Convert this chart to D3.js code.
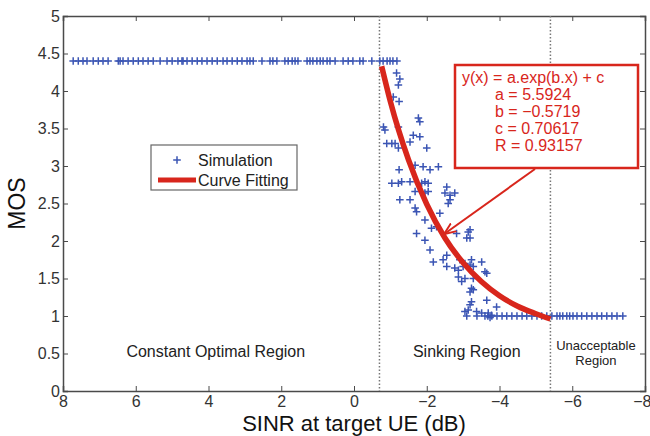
<!DOCTYPE html>
<html>
<head>
<meta charset="utf-8">
<script src="https://cdn.jsdelivr.net/npm/d3@7"></script>
<style>
  body { margin: 0; background: #fff; }
  svg { font-family: "Liberation Sans", Arial, sans-serif; }
</style>
</head>
<body>
<div id="chart"></div>
<script>
// simulation points on the upper plateau (MOS = 4.4)
var topSinr = [7.72, 7.58, 7.45, 7.34, 7.17, 7.03, 6.90, 6.76, 6.48, 6.43, 6.35, 6.21, 6.07, 5.93,
    5.80, 5.66, 5.52, 5.33, 5.14, 5.00, 4.84, 4.73, 4.70, 4.59, 4.45, 4.31, 4.18, 4.04, 3.90,
    3.76, 3.60, 3.49, 3.35, 3.21, 3.08, 2.94, 2.86, 2.77, 2.53, 2.31, 2.23, 2.12, 1.90, 1.81,
    1.70, 1.62, 1.54, 1.29, 1.21, 1.13, 1.02, 0.93, 0.85, 0.74, 0.66, 0.52, 0.30, 0.16, 0.03,
    -0.16, -0.25, -0.49, -0.71, -0.80, -0.91, -0.99, -1.07, -1.18];
var topMos = 4.4;

// simulation points on the lower plateau (MOS = 1)
var bottomSinr = [-3.10, -3.38, -3.60, -3.68, -3.79, -3.93, -4.07, -4.20, -4.34, -4.48, -4.62,
    -4.75, -4.89, -5.03, -5.16, -5.30, -5.44, -5.58, -5.66, -5.74, -5.85, -5.93, -6.02, -6.13,
    -6.26, -6.40, -6.54, -6.68, -6.81, -6.95, -7.09, -7.23, -7.39];
var bottomMos = 1.0;

// scattered simulation points in the sinking region
var scatterSinr = [-1.17, -1.26, -1.22, -1.08, -1.24, -1.77, -1.81, -0.81, -0.85, -1.22, -1.63,
    -1.81, -1.54, -0.90, -1.04, -1.13, -2.00, -1.22, -1.24, -1.68, -1.90, -2.09, -2.32, -1.04,
    -1.22, -1.31, -1.54, -1.86, -1.95, -2.04, -2.55, -1.68, -1.95, -2.04, -2.50, -2.64, -2.77,
    -2.64, -2.59, -1.26, -1.54, -1.68, -1.72, -2.36, -1.95, -2.13, -2.27, -1.72, -2.82, -3.19,
    -1.95, -3.14, -3.10, -3.19, -2.09, -2.55, -2.45, -2.18, -2.91, -3.05, -3.23, -3.51, -2.55,
    -2.77, -2.87, -3.00, -3.19, -3.28, -3.60, -3.65, -2.87, -3.05, -2.96, -3.28, -3.23, -3.28,
    -3.19, -3.23, -3.19, -3.65, -3.92, -3.14, -3.37, -3.51, -3.69, -3.78, -3.74, -3.05];
var scatterMos = [4.24, 4.16, 4.08, 3.92, 3.86, 3.64, 3.59, 3.52, 3.48, 3.52, 3.41, 3.39, 3.32,
    3.30, 3.30, 3.30, 3.24, 3.24, 2.95, 3.01, 2.99, 2.95, 2.99, 2.77, 2.77, 2.79, 2.79, 2.77,
    2.79, 2.77, 2.72, 2.66, 2.64, 2.66, 2.64, 2.61, 2.64, 2.55, 2.50, 2.55, 2.55, 2.44, 2.39,
    2.37, 2.28, 2.17, 2.19, 2.10, 2.10, 2.15, 2.01, 2.12, 2.04, 2.04, 1.88, 1.81, 1.75, 1.72,
    1.75, 1.70, 1.75, 1.72, 1.66, 1.64, 1.61, 1.66, 1.68, 1.66, 1.59, 1.57, 1.52, 1.50, 1.46,
    1.50, 1.37, 1.35, 1.32, 1.19, 1.15, 1.21, 1.12, 1.08, 1.06, 1.04, 1.04, 1.01, 0.98, 1.06];

// fitted curve
var fitSinr = [-0.76, -1.0, -1.5, -2.0, -2.5, -3.0, -3.5, -4.0, -4.5, -5.0, -5.4];
var fitMos = [4.33, 3.86, 3.08, 2.49, 2.04, 1.71, 1.46, 1.27, 1.13, 1.03, 0.96];

// region boundaries (dotted lines)
var boundaries = [-0.7, -5.4];

var xTicks = [8, 6, 4, 2, 0, -2, -4, -6, -8];
var yTicks = [0, 0.5, 1, 1.5, 2, 2.5, 3, 3.5, 4, 4.5, 5];

var fitText = ["y(x) = a.exp(b.x) + c", "a = 5.5924", "b = \u22120.5719", "c = 0.70617", "R = 0.93157"];
var regionNames = ["Constant Optimal Region", "Sinking Region", "Unacceptable", "Region"];
var regionSinr = [3.8, -3.1, -6.65, -6.65];
var regionLine = [0, 0, -1, 1];

var width = 650, height = 436;
var margin = {left: 63, right: 5, top: 16, bottom: 45};
var blue = "#3b55b4", red = "#d8261c", axisColor = "#4a4a4a";

var svg = d3.select("#chart").append("svg")
    .attr("width", width)
    .attr("height", height);

var x = d3.scaleLinear()
    .domain([8, -8])
    .range([margin.left, width - margin.right]);

var y = d3.scaleLinear()
    .domain([0, 5])
    .range([height - margin.bottom, margin.top]);

function fmt(d) {
    return d < 0 ? "\u2212" + Math.abs(d) : String(d);
}

// axes, matlab style: ticks inside, box all round
var xAxis = svg.append("g")
    .attr("transform", "translate(0," + y(0) + ")")
    .call(d3.axisBottom(x).tickValues(xTicks).tickSize(-5).tickPadding(5).tickFormat(fmt));
var xTop = svg.append("g")
    .attr("transform", "translate(0," + y(5) + ")")
    .call(d3.axisTop(x).tickValues(xTicks).tickSize(-5).tickFormat(""));
var yAxis = svg.append("g")
    .attr("transform", "translate(" + x(8) + ",0)")
    .call(d3.axisLeft(y).tickValues(yTicks).tickSize(-5).tickPadding(3).tickFormat(function(d) { return d; }));
var yRight = svg.append("g")
    .attr("transform", "translate(" + x(-8) + ",0)")
    .call(d3.axisRight(y).tickValues(yTicks).tickSize(-5).tickFormat(""));

[xAxis, xTop, yAxis, yRight].forEach(function(g) {
    g.selectAll("path.domain").attr("stroke", axisColor).attr("stroke-width", 1.5);
    g.selectAll(".tick line").attr("stroke", axisColor).attr("stroke-width", 1);
    g.selectAll(".tick text").attr("fill", "#333").style("font-size", "16px");
});
// keep the last x label inside the page
xAxis.selectAll(".tick text").filter(function(d) { return d === -8; }).attr("dx", "-0.2em");

// region boundaries
svg.selectAll("line.bound")
    .data(boundaries)
    .enter().append("line")
    .attr("class", "bound")
    .attr("x1", function(d) { return x(d); })
    .attr("x2", function(d) { return x(d); })
    .attr("y1", y(5))
    .attr("y2", y(0))
    .attr("stroke", "#777")
    .attr("stroke-width", 1.5)
    .attr("stroke-dasharray", "1.5,2");

// simulation points
var points = [];
topSinr.forEach(function(s) { points.push({s: s, m: topMos}); });
bottomSinr.forEach(function(s) { points.push({s: s, m: bottomMos}); });
scatterSinr.forEach(function(s, i) { points.push({s: s, m: scatterMos[i]}); });

var plus = "M-3.8,0H3.8M0,-3.8V3.8";
svg.selectAll("path.sim")
    .data(points)
    .enter().append("path")
    .attr("class", "sim")
    .attr("d", plus)
    .attr("transform", function(d) { return "translate(" + x(d.s) + "," + y(d.m) + ")"; })
    .attr("stroke", blue)
    .attr("stroke-width", 1.5)
    .attr("fill", "none");

// fitted curve
var fitData = fitSinr.map(function(s, i) { return {s: s, m: fitMos[i]}; });
var line = d3.line()
    .x(function(d) { return x(d.s); })
    .y(function(d) { return y(d.m); })
    .curve(d3.curveMonotoneX);

svg.append("path")
    .attr("d", line(fitData))
    .attr("stroke", red)
    .attr("stroke-width", 5.5)
    .attr("fill", "none");

// region labels
svg.selectAll("text.region")
    .data(regionNames)
    .enter().append("text")
    .attr("class", "region")
    .attr("x", function(d, i) { return x(regionSinr[i]); })
    .attr("y", function(d, i) { return 357 + regionLine[i] * 7.5; })
    .attr("text-anchor", "middle")
    .attr("fill", "#222")
    .style("font-size", function(d, i) { return regionLine[i] === 0 ? "16px" : "13px"; })
    .text(function(d) { return d; });

// legend
var legend = svg.append("g").attr("transform", "translate(151,145)");
legend.append("rect")
    .attr("width", 146)
    .attr("height", 45)
    .attr("fill", "#fff")
    .attr("stroke", "#666")
    .attr("stroke-width", 1.2);
legend.append("path")
    .attr("d", plus)
    .attr("transform", "translate(26,15)")
    .attr("stroke", blue)
    .attr("stroke-width", 1.5);
legend.append("line")
    .attr("x1", 7).attr("x2", 45)
    .attr("y1", 35).attr("y2", 35)
    .attr("stroke", red)
    .attr("stroke-width", 5);
legend.append("text").attr("x", 47).attr("y", 21).text("Simulation")
    .style("font-size", "16px").attr("fill", "#222");
legend.append("text").attr("x", 47).attr("y", 41).text("Curve Fitting")
    .style("font-size", "16px").attr("fill", "#222");

// fit annotation
var box = svg.append("g").attr("transform", "translate(455,65)");
box.append("rect")
    .attr("width", 183)
    .attr("height", 103)
    .attr("fill", "#fff")
    .attr("stroke", red)
    .attr("stroke-width", 2.5);
box.selectAll("text")
    .data(fitText)
    .enter().append("text")
    .attr("x", function(d, i) { return i === 0 ? 7 : 40; })
    .attr("y", function(d, i) { return 18 + i * 17; })
    .attr("fill", red)
    .style("font-size", "16px")
    .text(function(d) { return d; });

// arrow from the box to the curve
svg.append("defs").append("marker")
    .attr("id", "arrow")
    .attr("viewBox", "0 0 10 10")
    .attr("refX", 9).attr("refY", 5)
    .attr("markerWidth", 6).attr("markerHeight", 6)
    .attr("orient", "auto")
    .append("path")
    .attr("d", "M0,1L10,5L0,9")
    .attr("fill", "none")
    .attr("stroke", red)
    .attr("stroke-width", 1.6);

svg.append("line")
    .attr("x1", 535).attr("y1", 169)
    .attr("x2", x(-2.5)).attr("y2", y(2.1))
    .attr("stroke", red)
    .attr("stroke-width", 2)
    .attr("marker-end", "url(#arrow)");

// axis titles
svg.append("text")
    .attr("x", x(0))
    .attr("y", 431)
    .attr("text-anchor", "middle")
    .attr("fill", "#111")
    .style("font-size", "22px")
    .text("SINR at target UE (dB)");

svg.append("text")
    .attr("transform", "translate(25," + y(2.5) + ") rotate(-90)")
    .attr("text-anchor", "middle")
    .attr("fill", "#111")
    .style("font-size", "23px")
    .text("MOS");
</script>
</body>
</html>
